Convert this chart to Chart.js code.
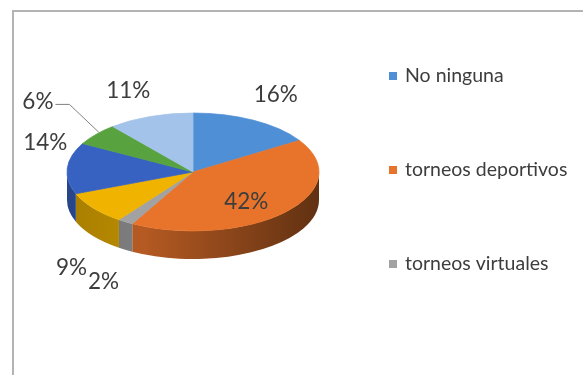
<!DOCTYPE html>
<html>
<head>
<meta charset="utf-8">
<script src="https://cdn.jsdelivr.net/npm/chart.js@4.4.1/dist/chart.umd.min.js"></script>
<style>
  html, body { margin: 0; padding: 0; background: #fff; }
  #wrap { position: relative; width: 583px; height: 375px; overflow: hidden; }
  #frame {
    position: absolute; left: 12px; top: 10px; right: -4px; bottom: -4px;
    border-top: 2px solid #b3b3b3; border-left: 2px solid #b3b3b3;
    pointer-events: none;
  }
</style>
</head>
<body>
<div id="wrap">
  <canvas id="chart" width="583" height="375"></canvas>
  <div id="frame"></div>
</div>
<script>
// legend entries (only the first three are named in the legend)
const categories = ['No ninguna', 'torneos deportivos', 'torneos virtuales'];
// slice values, clockwise from 12 o'clock
const values = [16, 42, 2, 9, 14, 6, 11];
const sliceColors = ['#4f8fd6', '#e8742c', '#a2a2a2', '#f0b400', '#3762c2', '#58a33f', '#a3c3ea'];

const TILT = 59 / 126;   // vertical squash of the pie top
const DEPTH = 28;        // thickness of the pie

function shade(hex, f) {
  const n = parseInt(hex.slice(1), 16);
  const r = Math.round(((n >> 16) & 255) * f);
  const g = Math.round(((n >> 8) & 255) * f);
  const b = Math.round((n & 255) * f);
  return `rgb(${r},${g},${b})`;
}

// flattens the pie and draws the front wall under it
const pie3d = {
  id: 'pie3d',
  beforeDatasetsDraw(chart) {
    const ctx = chart.ctx;
    const arcs = chart.getDatasetMeta(0).data;
    const { x: cx, y: cy, outerRadius: rx } = arcs[0];
    const ry = rx * TILT;

    arcs.forEach((arc, i) => {
      const s = Math.max(arc.startAngle, 0);
      const e = Math.min(arc.endAngle, Math.PI);
      if (e <= s) return;
      const base = sliceColors[i];
      const grad = ctx.createLinearGradient(cx - rx, 0, cx + rx, 0);
      grad.addColorStop(0, shade(base, 0.7));
      grad.addColorStop(0.3, shade(base, 0.78));
      grad.addColorStop(1, shade(base, 0.42));
      ctx.beginPath();
      ctx.ellipse(cx, cy, rx, ry, 0, s, e, false);
      ctx.ellipse(cx, cy + DEPTH, rx, ry, 0, e, s, true);
      ctx.closePath();
      ctx.fillStyle = grad;
      ctx.fill();
    });

    ctx.save();
    ctx.translate(cx, cy);
    ctx.scale(1, TILT);
    ctx.translate(-cx, -cy);
  },
  afterDatasetsDraw(chart) {
    chart.ctx.restore();
  }
};

// percentage labels around the pie
const pieLabels = {
  id: 'pieLabels',
  afterDraw(chart, args, opts) {
    const ctx = chart.ctx;
    const arcs = chart.getDatasetMeta(0).data;
    const total = values.reduce((a, b) => a + b, 0);
    ctx.save();
    ctx.font = opts.font;
    ctx.fillStyle = opts.color;
    ctx.textAlign = 'center';
    ctx.textBaseline = 'middle';
    arcs.forEach((arc, i) => {
      const { x: cx, y: cy, outerRadius: rx, startAngle, endAngle } = arc;
      const ry = rx * TILT;
      const mid = (startAngle + endAngle) / 2;
      const c = Math.cos(mid), s = Math.sin(mid);
      const share = values[i] / total;
      const text = Math.round(share * 100) + '%';
      let x, y;
      if (share >= 0.3) {
        x = cx + c * rx * 0.58;
        y = cy + s * ry * 0.58 + 6;
      } else {
        const ex = cx + c * rx;
        const ey = cy + s * ry + (s > 0 ? DEPTH : 0);
        x = ex + Math.sign(c) * 22;
        y = ey + (s < 0 ? -26 : 32);
        const nudge = opts.nudge[i];
        if (nudge) {
          x += nudge[0];
          y += nudge[1];
          const w = ctx.measureText(text).width;
          ctx.beginPath();
          ctx.moveTo(ex + 3, ey - 2);
          ctx.lineTo(x + w / 2 + 16, y + 3);
          ctx.lineTo(x + w / 2 + 2, y + 3);
          ctx.strokeStyle = opts.lineColor;
          ctx.lineWidth = 1;
          ctx.stroke();
        }
      }
      ctx.fillText(text, x, y);
    });
    ctx.restore();
  }
};

// legend to the right, widely spaced rows
const sideLegend = {
  id: 'sideLegend',
  afterDraw(chart, args, opts) {
    const ctx = chart.ctx;
    const items = Chart.overrides.doughnut.plugins.legend.labels.generateLabels(chart);
    const area = chart.chartArea;
    const x0 = area.right + 3;
    const yMid = (area.top + area.bottom) / 2 - 2;
    const top = yMid - opts.rowGap * (items.length - 1) / 2;
    ctx.save();
    ctx.font = opts.font;
    ctx.textAlign = 'left';
    ctx.textBaseline = 'middle';
    items.forEach((item, i) => {
      const y = top + i * opts.rowGap;
      ctx.fillStyle = item.fillStyle;
      ctx.fillRect(x0, y - 4, 8, 8);
      ctx.fillStyle = opts.color;
      ctx.fillText(item.text, x0 + 16, y);
    });
    ctx.restore();
  }
};

new Chart(document.getElementById('chart'), {
  type: 'pie',
  data: {
    labels: categories,
    datasets: [{
      data: values,
      backgroundColor: sliceColors,
      borderColor: sliceColors,
      borderWidth: 1,
      radius: 126
    }]
  },
  options: {
    responsive: false,
    animation: false,
    devicePixelRatio: 1,
    layout: { padding: { top: 0, left: 0, right: 197, bottom: 31 } },
    plugins: {
      legend: { display: false },
      tooltip: { enabled: false },
      pieLabels: {
        font: '22.5px Lato',
        color: '#3d3d3d',
        lineColor: '#808080',
        nudge: { 5: [-36, -7] }
      },
      sideLegend: {
        font: '19.5px Lato',
        color: '#3d3d3d',
        rowGap: 94
      }
    }
  },
  plugins: [pie3d, pieLabels, sideLegend]
});
</script>
</body>
</html>
